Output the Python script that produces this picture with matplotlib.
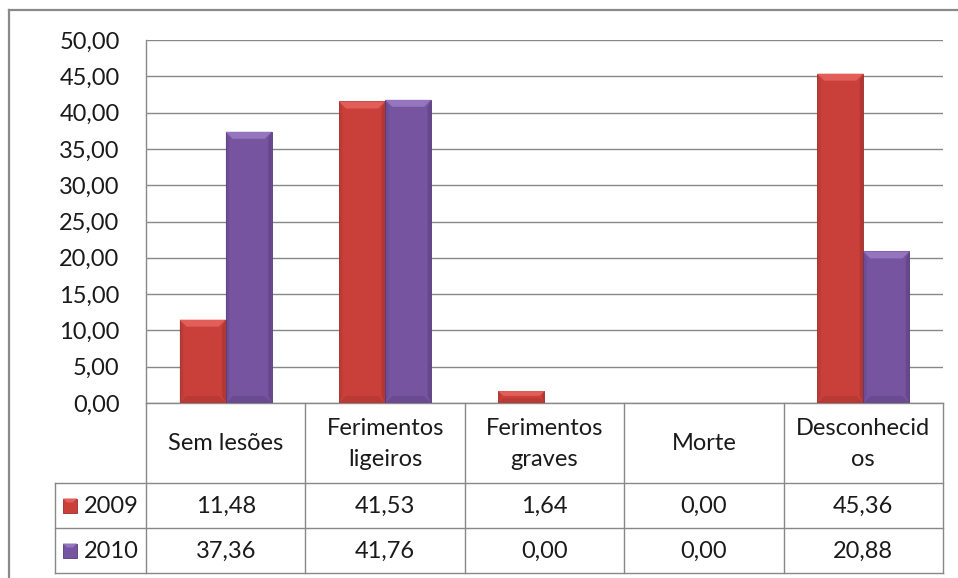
import matplotlib
matplotlib.use("Agg")
import matplotlib.pyplot as plt
from matplotlib.patches import Polygon, Rectangle
from matplotlib.lines import Line2D
from matplotlib.transforms import IdentityTransform
import numpy as np

categories = ["Sem lesões", "Ferimentos\nligeiros", "Ferimentos\ngraves", "Morte", "Desconhecid\nos"]
series_names = ["2009", "2010"]
values_2009 = [11.48, 41.53, 1.64, 0.00, 45.36]
values_2010 = [37.36, 41.76, 0.00, 0.00, 20.88]
yticks = [0, 5, 10, 15, 20, 25, 30, 35, 40, 45, 50]

colors = ["#C93F3A", "#7654A0"]
light = ["#E25E58", "#9475BE"]
dark = ["#9C2E2A", "#563B7A"]

FONT = "Lato"
FS = 17
TC = "#1a1a1a"
W, H = 958, 578
fig = plt.figure(figsize=(W / 100, H / 100), dpi=100)

def fx(x):
    return x / W

def fy(y):
    return 1 - y / H

# plot area in pixels
L, T, R, B = 146, 40, 943, 403
ax = fig.add_axes([fx(L), fy(B), fx(R) - fx(L), fy(T) - fy(B)])
n = len(categories)
x = np.arange(n)
bw = 0.289
bars = []
for i, vals in enumerate([values_2009, values_2010]):
    off = (i - 0.5) * bw
    bc = ax.bar(x + off, vals, width=bw, color=colors[i], edgecolor=dark[i],
                linewidth=0.6, zorder=3)
    bars.append(bc)
ax.set_xlim(-0.5, n - 0.5)
ax.set_ylim(0, 50)
ax.set_yticks(yticks)
ax.set_yticklabels([f"{v:.2f}".replace(".", ",") for v in yticks],
                   fontfamily=FONT, fontsize=FS, color=TC)
ax.set_xticks([])
ax.tick_params(axis="y", length=0, pad=19)
ax.grid(axis="y", color="#888888", linewidth=1.0, zorder=0)
for s in ["top", "right"]:
    ax.spines[s].set_visible(False)
for s in ["left", "bottom"]:
    ax.spines[s].set_color("#888888")
    ax.spines[s].set_linewidth(1.0)

# bevel effect computed from bar patches
fig.canvas.draw()
for i, bc in enumerate(bars):
    for p in bc.patches:
        h = p.get_height()
        if h <= 0:
            continue
        (x0, y0) = ax.transData.transform((p.get_x(), 0))
        (x1, y1) = ax.transData.transform((p.get_x() + p.get_width(), h))
        b = min(7, (y1 - y0) * 0.4)
        top = Polygon([(x0, y1), (x1, y1), (x1 - b, y1 - b), (x0 + b, y1 - b)],
                      closed=True, transform=IdentityTransform(), facecolor=light[i],
                      edgecolor="none", zorder=4)
        bot = Polygon([(x0, y0), (x1, y0), (x1 - b, y0 + b), (x0 + b, y0 + b)],
                      closed=True, transform=IdentityTransform(), facecolor=dark[i],
                      edgecolor="none", zorder=4, alpha=0.35)
        rgt = Polygon([(x1, y0), (x1, y1), (x1 - b * 0.5, y1 - b), (x1 - b * 0.5, y0 + b)],
                      closed=True, transform=IdentityTransform(), facecolor=dark[i],
                      edgecolor="none", zorder=4, alpha=0.5)
        lft = Polygon([(x0, y0), (x0, y1), (x0 + b * 0.5, y1 - b), (x0 + b * 0.5, y0 + b)],
                      closed=True, transform=IdentityTransform(), facecolor=dark[i],
                      edgecolor="none", zorder=4, alpha=0.25)
        for pp in (top, bot, rgt, lft):
            fig.add_artist(pp)

# overlay for table and border (pixel coordinates)
ov = fig.add_axes([0, 0, 1, 1], facecolor="none")
ov.set_xlim(0, W)
ov.set_ylim(H, 0)
ov.axis("off")
gc = "#888888"

# outer border
ov.add_line(Line2D([9, W], [10, 10], color="#8a8a8a", lw=1.6))
ov.add_line(Line2D([9, 9], [10, H], color="#8a8a8a", lw=1.6))

colx = np.linspace(L, R, n + 1)
rows = [403, 483, 528, 573]
labx = 55
for ry in rows[1:]:
    ov.add_line(Line2D([labx, R], [ry, ry], color=gc, lw=1.0))
for cx in colx:
    ov.add_line(Line2D([cx, cx], [rows[0], rows[3]], color=gc, lw=1.0))
ov.add_line(Line2D([labx, labx], [rows[1], rows[3]], color=gc, lw=1.0))

# header labels (each line placed separately for Excel-like line spacing)
LH = 31
for j, c in enumerate(categories):
    parts = c.split("\n")
    ymid = (rows[0] + rows[1]) / 2 + 1
    for k, part in enumerate(parts):
        yy = ymid + (k - (len(parts) - 1) / 2) * LH
        ov.text((colx[j] + colx[j + 1]) / 2, yy, part,
                ha="center", va="center", fontfamily=FONT, fontsize=FS, color=TC)
# values
for r, vals in enumerate([values_2009, values_2010]):
    yc = (rows[r + 1] + rows[r + 2]) / 2 + 1
    for j, v in enumerate(vals):
        ov.text((colx[j] + colx[j + 1]) / 2, yc, f"{v:.2f}".replace(".", ","),
                ha="center", va="center", fontfamily=FONT, fontsize=FS, color=TC)
    # legend key
    ov.add_patch(Rectangle((63, yc - 8), 14, 14, facecolor=colors[r],
                           edgecolor=dark[r], lw=0.6))
    ov.add_patch(Polygon([(63, yc - 8), (77, yc - 8), (73, yc - 4), (67, yc - 4)],
                         closed=True, facecolor=light[r], edgecolor="none"))
    ov.text(84, yc, series_names[r], ha="left", va="center", fontfamily=FONT,
            fontsize=FS, color=TC)

fig.savefig("out.png", dpi=100, facecolor="white")
